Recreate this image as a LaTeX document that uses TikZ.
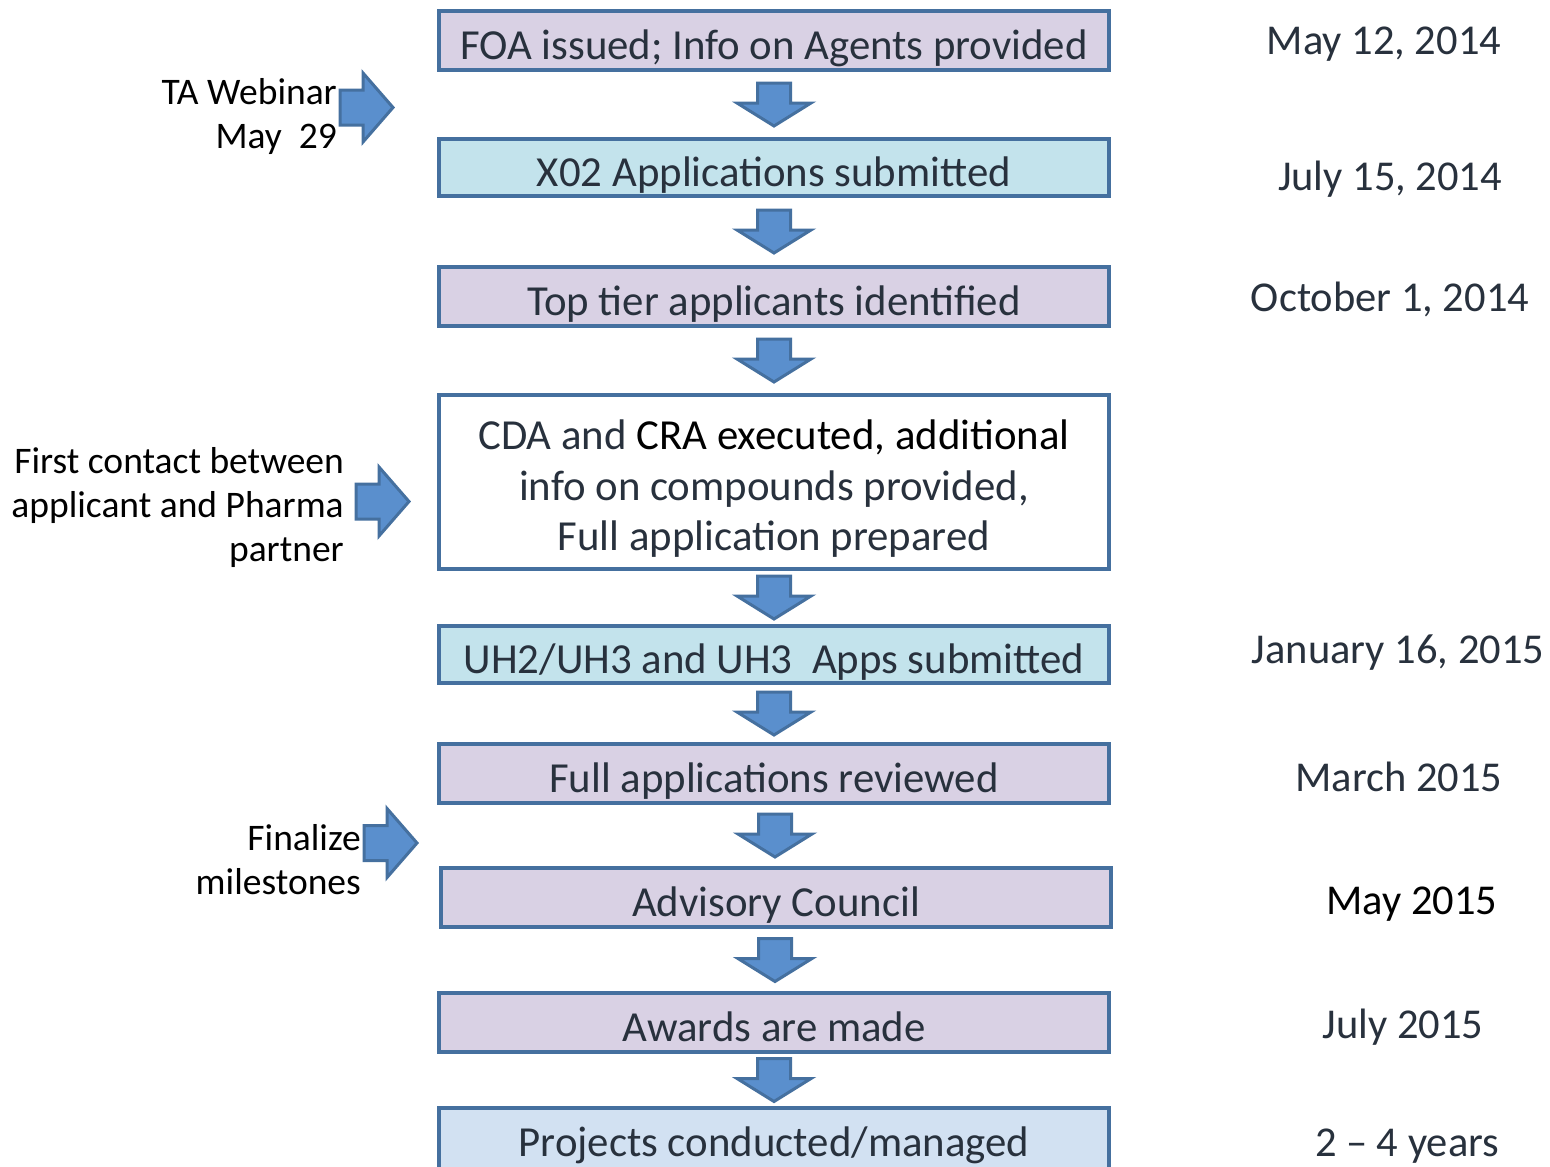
\documentclass[tikz,border=0pt]{standalone}
\usepackage{fontspec}
\setmainfont{Carlito}
\usetikzlibrary{calc}
\definecolor{bordc}{HTML}{45709F}
\definecolor{arrfill}{HTML}{5A8FCD}
\definecolor{purp}{HTML}{D9D1E4}
\definecolor{cyanb}{HTML}{C3E3EC}
\definecolor{paleb}{HTML}{D2E1F2}
\definecolor{boxtxt}{HTML}{28313D}
\newcommand\blockdown[1]{\draw[barrow, shift={(#1)}] (-16.5,-21.5) -- (16.5,-21.5) -- (16.5,-1.5) -- (37,-1.5) -- (0,21.5) -- (-37,-1.5) -- (-16.5,-1.5) -- cycle;}
\newcommand\blockright[1]{\draw[barrow, shift={(#1)}] (-26.5,-17.5) -- (-3.5,-17.5) -- (-3.5,-34.5) -- (26.5,0) -- (-3.5,34.5) -- (-3.5,17.5) -- (-26.5,17.5) -- cycle;}
\begin{document}
\begin{tikzpicture}[x=1pt,y=-1pt,
  boxbase/.style={draw=bordc, line width=4pt, minimum width=670pt, inner sep=0pt, text=boxtxt, font=\fontsize{42.8}{50.5}\selectfont},
  flowbox/.style={boxbase, minimum height=59pt, text height=37pt, text depth=0pt},
  purple/.style={fill=purp},
  cyanbox/.style={fill=cyanb},
  palebox/.style={fill=paleb},
  barrow/.style={draw=bordc, line width=3pt, fill=arrfill, line join=miter},
  datelbl/.style={anchor=base, text=boxtxt, font=\fontsize{42.5}{48}\selectfont},
  sidelbl/.style={anchor=east, align=right, inner sep=0pt, text=black, font=\fontsize{37.5}{44}\selectfont}
]
\useasboundingbox (0,0) rectangle (1550,1167);
\fill[white] (0,0) rectangle (1550,1167);

\node[flowbox, purple] (b1) at (774,40.5) {FOA issued; Info on Agents provided};
\node[flowbox, cyanbox, minimum height=57pt] (b2) at (774,167.5) {X02 Applications submitted};
\node[flowbox, purple] (b3) at (774,296.5) {Top tier applicants identified};
\node[boxbase, fill=white, minimum height=174pt] (b4) at (774,482) {};
\node[align=center, text=boxtxt, font=\fontsize{42.8}{50.5}\selectfont, anchor=north, inner sep=0pt] (b4t) at ($(b4.center)+(0,-68)$) {\strut CDA and \textcolor{black}{CRA executed, additional}\\info on compounds provided,\\Full application prepared};
\node[flowbox, cyanbox, minimum height=57pt] (b5) at (774,654.5) {UH2/UH3 and UH3\ \ Apps submitted};
\node[flowbox, purple] (b6) at (774,773.5) {Full applications reviewed};
\node[flowbox, purple] (b7) at (776,897.5) {Advisory Council};
\node[flowbox, purple] (b8) at (774,1022.5) {Awards are made};
\node[flowbox, palebox, minimum height=66pt, text height=30pt] (b9) at (774,1141) {Projects conducted/managed};

\coordinate (d1) at ($(b1.south)!0.5!(b2.north)$);
\coordinate (d2) at ($(b2.south)!0.5!(b3.north)$);
\coordinate (d3) at ($(b3.south)!0.5!(b4.north)$);
\coordinate (d4) at ($(b4.south)!0.5!(b5.north)$);
\coordinate (d5) at ($(b5.south)!0.5!(b6.north)$);
\coordinate (d6) at ($(b6.south)!0.5!(b7.north)$);
\coordinate (d7) at ($(b7.south)!0.5!(b8.north)$);
\coordinate (d8) at ($(b8.south)!0.5!(b9.north)$);
\foreach \c in {d1,d2,d3,d4,d5,d6,d7,d8} {\blockdown{\c}}

\coordinate (r1) at (366.5,107.5);
\coordinate (r2) at (382.5,501.5);
\coordinate (r3) at (390.5,843);
\foreach \c in {r1,r2,r3} {\blockright{\c}}

\node[sidelbl] (l1) at (337,117) {TA Webinar\\May\ \ 29};
\node[sidelbl] (l2) at (344,507) {First contact between\\applicant and Pharma\\partner};
\node[sidelbl] (l3) at (361,860) {Finalize\\milestones};

\node[datelbl] (t1) at (1384,54) {May 12, 2014};
\node[datelbl] (t2) at (1390,190) {July 15, 2014};
\node[datelbl] (t3) at (1390,311) {October 1, 2014};
\node[datelbl] (t4) at (1398,663) {January 16, 2015};
\node[datelbl] (t5) at (1399,791) {March 2015};
\node[datelbl, text=black] (t6) at (1412,914) {May 2015};
\node[datelbl] (t7) at (1403,1038) {July 2015};
\node[datelbl] (t8) at (1407,1156) {2 -- 4 years};
\end{tikzpicture}
\end{document}
